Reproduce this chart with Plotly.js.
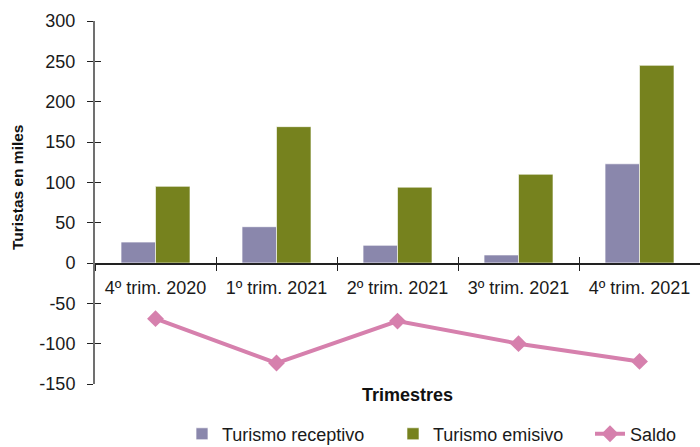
<!DOCTYPE html>
<html>
<head>
<meta charset="utf-8">
<script src="https://cdn.plot.ly/plotly-3.0.1.min.js"></script>
<style>
html,body{margin:0;padding:0;background:#fff;}
#chart{width:700px;height:447px;}
</style>
</head>
<body>
<div id="chart"></div>
<script>
// Data
var categories = ["4º trim. 2020", "1º trim. 2021", "2º trim. 2021", "3º trim. 2021", "4º trim. 2021"];
var receptivo = [26, 45, 22, 10, 123];
var emisivo = [95, 169, 94, 110, 245];
var saldo = [-69, -124, -72, -100, -122];
var seriesNames = ["Turismo receptivo", "Turismo emisivo", "Saldo"];
var yTickVals = [-150, -100, -50, 0, 50, 100, 150, 200, 250, 300];
var yTickText = ["-150", "-100", "-50", "0", "50", "100", "150", "200", "250", "300"];

var FONT = "Liberation Sans, Arial, Helvetica, sans-serif";

var traces = [
  {
    type: "bar", name: seriesNames[0], x: categories, y: receptivo, legend: "legend",
    marker: {color: "#8a87ac", line: {color: "rgba(255,255,255,0.7)", width: 1}},
    hoverinfo: "y+name"
  },
  {
    type: "bar", name: seriesNames[1], x: categories, y: emisivo, legend: "legend2",
    marker: {color: "#76821e", line: {color: "rgba(255,255,255,0.6)", width: 1}},
    hoverinfo: "y+name"
  },
  {
    type: "scatter", mode: "lines+markers", name: seriesNames[2], x: categories, y: saldo, legend: "legend3",
    line: {color: "#d680ad", width: 4},
    marker: {symbol: "diamond", size: 13, color: "#d680ad"},
    hoverinfo: "y+name"
  },
  {
    type: "scatter", mode: "markers", x: categories, y: saldo, xaxis: "x2", yaxis: "y2",
    marker: {opacity: 0}, showlegend: false, hoverinfo: "skip"
  }
];

function legendAt(px) {
  return {
    orientation: "h", x: (px - 95) / 605, xanchor: "left", y: -0.087, yanchor: "top",
    font: {family: FONT, size: 18, color: "#1a1a1a"},
    itemwidth: 30, bgcolor: "rgba(0,0,0,0)"
  };
}

var layout = {
  width: 700, height: 447,
  margin: {l: 95, r: 0, t: 21, b: 63, autoexpand: false},
  paper_bgcolor: "#fff", plot_bgcolor: "#fff",
  font: {family: FONT, size: 18, color: "#1a1a1a"},
  barmode: "group", bargap: 0.43, bargroupgap: 0,
  showlegend: true,
  legend: legendAt(182),
  legend2: legendAt(393),
  legend3: legendAt(590),
  xaxis: {
    type: "category", categoryarray: categories, categoryorder: "array",
    range: [-0.5, categories.length - 0.5],
    anchor: "free", position: 150 / 450,
    showline: true, linecolor: "#222", linewidth: 1.5,
    ticks: "outside", tickson: "boundaries", ticklen: 6, tickcolor: "#222", tickwidth: 1,
    tickfont: {family: FONT, size: 18, color: "#1a1a1a"},
    ticklabelstandoff: 8,
    showgrid: false, zeroline: false, fixedrange: true
  },
  xaxis2: {
    type: "category", categoryarray: categories, categoryorder: "array",
    range: [-0.5, categories.length - 0.5],
    overlaying: "x", anchor: "free", position: 150 / 450,
    showline: false, ticks: "inside", tickson: "boundaries", ticklen: 6, tickcolor: "#222", tickwidth: 1,
    showticklabels: false, showgrid: false, zeroline: false, fixedrange: true
  },
  yaxis: {
    range: [-150, 300], tickvals: yTickVals, ticktext: yTickText,
    showline: true, linecolor: "#707070", linewidth: 2,
    ticks: "outside", ticklen: 6, tickcolor: "#222", tickwidth: 1,
    tickfont: {family: FONT, size: 18, color: "#1a1a1a"},
    ticklabelstandoff: 8,
    showgrid: false, zeroline: false, fixedrange: true
  },
  yaxis2: {
    range: [-150, 300], tickvals: yTickVals, overlaying: "y", anchor: "x2",
    showline: false, ticks: "inside", ticklen: 6, tickcolor: "#222", tickwidth: 1,
    showticklabels: false, showgrid: false, zeroline: false, fixedrange: true
  },
  annotations: [
    {text: "<b>Turistas en miles</b>", textangle: -90, xref: "paper", yref: "paper",
     x: (17.5 - 95) / 605, y: (384 - 187.5) / 363, xanchor: "center", yanchor: "middle",
     showarrow: false, font: {family: FONT, size: 15.5, color: "#111"}},
    {text: "<b>Trimestres</b>", xref: "paper", yref: "paper",
     x: (407 - 95) / 605, y: (384 - 395) / 363, xanchor: "center", yanchor: "middle",
     showarrow: false, font: {family: FONT, size: 18, color: "#111"}}
  ]
};

Plotly.newPlot("chart", traces, layout, {displayModeBar: false, staticPlot: true});
</script>
</body>
</html>
